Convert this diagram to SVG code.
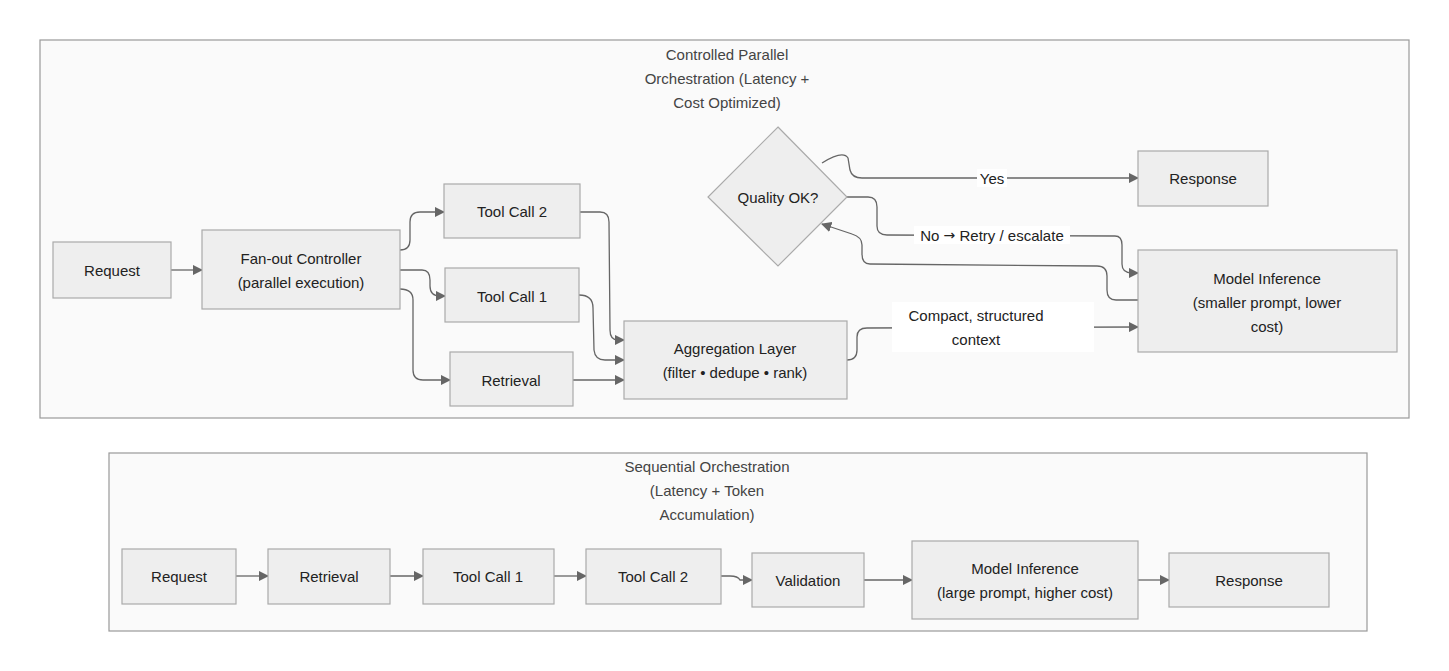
<svg xmlns="http://www.w3.org/2000/svg" width="1449" height="671" viewBox="0 0 1449 671">
<style>
text{font-family:"Liberation Sans",Arial,sans-serif;font-size:15px;fill:#222;text-anchor:middle;dominant-baseline:central}
.n{fill:#eeeeee;stroke:#aaaaaa;stroke-width:1.2}
.c{fill:#fafafa;stroke:#999999;stroke-width:1.2}
.e{fill:none;stroke:#666;stroke-width:1.3;marker-end:url(#a)}
.t{fill:#444}
</style>
<defs><marker id="a" viewBox="0 0 10 10" refX="9" refY="5" markerWidth="8" markerHeight="8" orient="auto"><path d="M0,0L10,5L0,10z" fill="#666"/></marker></defs>
<rect width="1449" height="671" fill="#fff"/>
<g id="cluster1"><rect class="c" x="40" y="40" width="1369" height="378"/>
<text class="t" x="727" y="54">Controlled Parallel</text><text class="t" x="727" y="78">Orchestration (Latency +</text><text class="t" x="727" y="102">Cost Optimized)</text></g>
<g id="cluster2"><rect class="c" x="109" y="453" width="1258" height="178"/>
<text class="t" x="707" y="466">Sequential Orchestration</text><text class="t" x="707" y="490">(Latency + Token</text><text class="t" x="707" y="514">Accumulation)</text></g>
<g id="edges">
<path class="e" d="M171,270L202,270"/>
<path class="e" d="M400,250Q410,250 410,240L410,222Q410,212 420,212L444,212"/>
<path class="e" d="M400,270L422,270Q430,270 430,280L430,286Q430,296 440,296L445,296"/>
<path class="e" d="M400,289Q413,289 413,300L413,370Q413,380 423,380L450,380"/>
<path class="e" d="M580,212L600,212Q609,212 609,222L610,330Q610,340 618,340L624,340"/>
<path class="e" d="M579,295Q593,295 593,308L594,350Q595,360 605,360L624,360"/>
<path class="e" d="M573,380L624,380"/>
<path class="e" d="M847,360Q857,360 857,350L857,337Q857,328 867,328L1138,327"/>
<path class="e" d="M822,163Q843,150 848,158L850,170Q852,178 862,178L1138,178"/>
<path class="e" d="M847,197L868,197Q877,197 877,207L877,226Q877,235 887,235L1115,236Q1122,236 1122,245L1122,264Q1122,273 1132,273L1138,273"/>
<path class="e" d="M1138,300L1116,300Q1107,300 1107,290L1107,276Q1107,266 1097,266L870,264Q862,264 862,254L862,245Q862,237 852,234L822,224"/>
<rect x="977" y="169" width="30" height="18" fill="#fff"/><text x="992" y="178">Yes</text>
<rect x="914" y="226" width="156" height="18" fill="#fff"/><text x="992" y="235">No <tspan style="font-family:'DejaVu Sans',sans-serif;font-size:14px">→</tspan> Retry / escalate</text>
<rect x="892" y="302" width="202" height="50" fill="#fff"/><text x="976" y="315">Compact, structured</text><text x="976" y="339">context</text>
<path class="e" d="M236,576L268,576"/>
<path class="e" d="M390,576L423,576"/>
<path class="e" d="M554,576L586,576"/>
<path class="e" d="M721,576L730,576Q738,576 740,580L752,580"/>
<path class="e" d="M864,580L912,580"/>
<path class="e" d="M1138,580L1169,580"/>
</g>
<g id="req1"><rect class="n" x="53" y="242" width="118" height="56"/><text x="112" y="270">Request</text></g>
<g id="fanout"><rect class="n" x="202" y="230" width="198" height="79"/><text x="301" y="258">Fan-out Controller</text><text x="301" y="282">(parallel execution)</text></g>
<g id="tc2"><rect class="n" x="444" y="184" width="136" height="54"/><text x="512" y="211">Tool Call 2</text></g>
<g id="tc1"><rect class="n" x="445" y="268" width="134" height="54"/><text x="512" y="296">Tool Call 1</text></g>
<g id="ret1"><rect class="n" x="450" y="352" width="123" height="54"/><text x="511" y="380">Retrieval</text></g>
<g id="agg"><rect class="n" x="624" y="321" width="223" height="78"/><text x="735" y="348">Aggregation Layer</text><text x="735" y="372">(filter • dedupe • rank)</text></g>
<g id="quality"><polygon class="n" points="778,127 847,197 778,266 708,197"/><text x="778" y="197">Quality OK?</text></g>
<g id="resp1"><rect class="n" x="1138" y="151" width="130" height="55"/><text x="1203" y="178">Response</text></g>
<g id="model1"><rect class="n" x="1138" y="250" width="259" height="102"/><text x="1267" y="278">Model Inference</text><text x="1267" y="302">(smaller prompt, lower</text><text x="1267" y="326">cost)</text></g>
<g id="req2"><rect class="n" x="122" y="549" width="114" height="55"/><text x="179" y="576">Request</text></g>
<g id="ret2"><rect class="n" x="268" y="549" width="122" height="55"/><text x="329" y="576">Retrieval</text></g>
<g id="tc1b"><rect class="n" x="423" y="549" width="131" height="55"/><text x="488" y="576">Tool Call 1</text></g>
<g id="tc2b"><rect class="n" x="586" y="549" width="135" height="55"/><text x="653" y="576">Tool Call 2</text></g>
<g id="valid"><rect class="n" x="752" y="553" width="112" height="54"/><text x="808" y="580">Validation</text></g>
<g id="model2"><rect class="n" x="912" y="541" width="226" height="78"/><text x="1025" y="568">Model Inference</text><text x="1025" y="592">(large prompt, higher cost)</text></g>
<g id="resp2"><rect class="n" x="1169" y="553" width="160" height="54"/><text x="1249" y="580">Response</text></g>
</svg>
